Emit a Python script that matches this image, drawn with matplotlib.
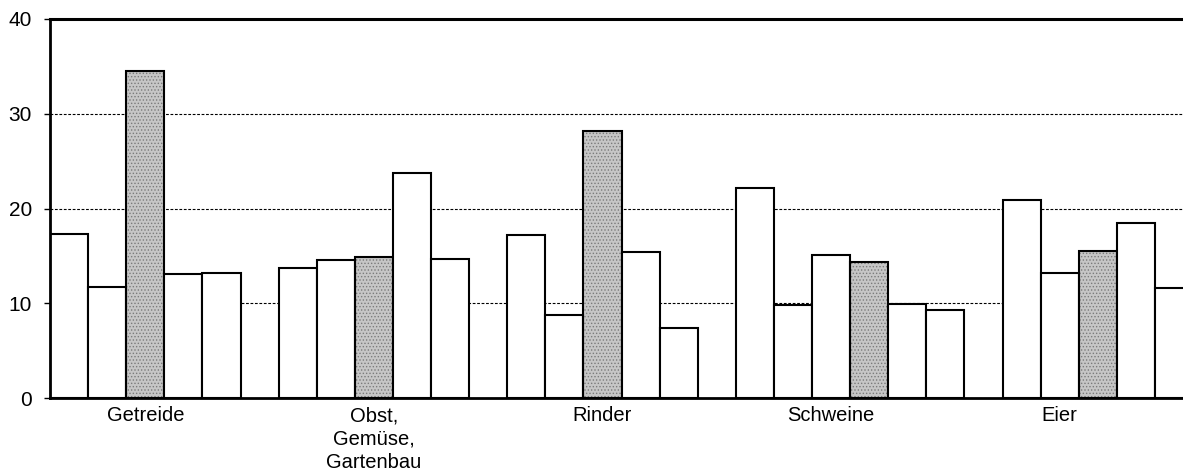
import matplotlib
matplotlib.use("Agg")
import matplotlib.pyplot as plt

plt.rcParams['font.family'] = ['Liberation Sans', 'DejaVu Sans']
plt.rcParams['hatch.linewidth'] = 0.6

categories = ["Getreide", "Obst,\nGemüse,\nGartenbau", "Rinder", "Schweine", "Eier"]
getreide = [17.3, 11.7, 34.5, 13.1, 13.2, None]
obst = [13.7, 14.6, 14.9, 23.7, 14.7, None]
rinder = [17.2, 8.8, 28.2, 15.4, 7.4, None]
schweine = [22.2, 9.8, 15.1, 14.4, 9.9, 9.3]
eier = [None, 20.9, 13.2, 15.5, 18.5, 11.6]
highlight = [2, 2, 2, 3, 3]
yticks = [0, 10, 20, 30, 40]

groups = [getreide, obst, rinder, schweine, eier]
slots_per_group = 6

fig = plt.figure(figsize=(11.83, 4.76), dpi=100)
ax = fig.add_axes([50 / 1183, 1 - 398 / 476, 1 - 50 / 1183, (398 - 19) / 476])

for k, vals in enumerate(groups):
    for j, v in enumerate(vals):
        if v is None:
            continue
        x = k * slots_per_group + j
        if j == highlight[k]:
            ax.bar(x, v, width=1, align='edge', color='#c6c6c6', hatch='.....',
                   edgecolor='#7a7a7a', linewidth=0, zorder=2)
            ax.bar(x, v, width=1, align='edge', fill=False, edgecolor='black',
                   linewidth=1.5, zorder=3)
        else:
            ax.bar(x, v, width=1, align='edge', color='white', edgecolor='black',
                   linewidth=1.5, zorder=3)

ax.set_xlim(0, 1133 / 38.1)
ax.set_ylim(0, 40)
ax.set_yticks(yticks)
ax.set_yticklabels([str(t) for t in yticks], fontsize=15)
ax.set_xticks([k * slots_per_group + 2.5 for k in range(len(categories))])
ax.set_xticklabels(categories, fontsize=14.5, linespacing=1.3)
ax.tick_params(axis='x', length=0, pad=6)
ax.tick_params(axis='y', length=4, width=1, pad=9)

ax.set_axisbelow(True)
ax.yaxis.grid(True, color='black', linestyle=(0, (2.5, 1.5)), linewidth=0.8)

ax.spines['top'].set_linewidth(2.2)
ax.spines['left'].set_linewidth(2.0)
ax.spines['bottom'].set_linewidth(2.0)
ax.spines['right'].set_visible(False)
for sp in ax.spines.values():
    sp.set_zorder(4)

fig.savefig("out.png", dpi=100)
